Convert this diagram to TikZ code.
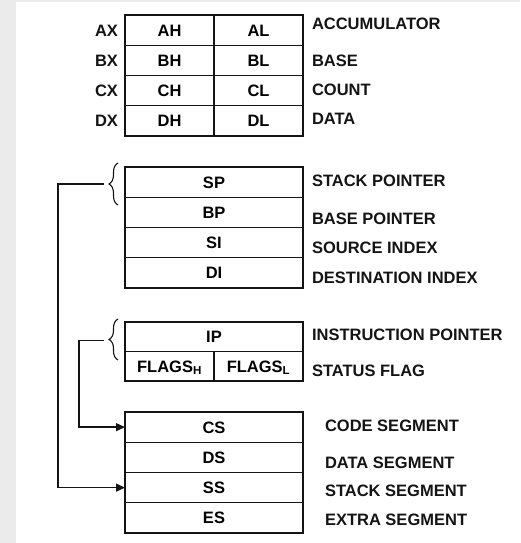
\documentclass[tikz,border=0pt]{standalone}
\usepackage{fontspec}
\setmainfont{Liberation Sans}
\usetikzlibrary{arrows.meta, positioning, decorations.pathreplacing}
\definecolor{myink}{RGB}{20,20,20}
\definecolor{mypanel}{RGB}{235,235,235}
\newcommand{\archfont}{\fontsize{16.5}{19}\selectfont\bfseries}
\tikzset{
  halfcell/.style={rectangle, draw=myink, minimum width=89pt,
    minimum height=30.25pt, inner sep=0pt, outer sep=0pt,
    text height=11.8pt, text depth=0pt, font=\archfont, line width=1.4pt},
  fullcell/.style={halfcell, minimum width=178pt},
  reglabel/.style={inner sep=0pt, outer sep=0pt, text height=11.8pt,
    text depth=0pt, font=\archfont, color=myink},
  bracepath/.style={decorate, decoration={brace, amplitude=9pt},
    line width=1.1pt, color=myink},
  arrow/.style={-{Triangle[length=9pt, width=8pt]}, line width=1.4pt, color=myink}
}

\begin{document}
\begin{tikzpicture}[x=1pt, y=-1pt]
  \useasboundingbox (0,0) rectangle (520,543);
  \fill[mypanel] (0,0) rectangle (16,543);
  \fill[mypanel] (0,0) rectangle (520,2);

  % General purpose registers
  \node[halfcell] (ah) at (169.5,30.125) {AH};
  \node[halfcell, right=0pt of ah] (al) {AL};
  \node[halfcell, below=0pt of ah] (bh) {BH};
  \node[halfcell, right=0pt of bh] (bl) {BL};
  \node[halfcell, below=0pt of bh] (ch) {CH};
  \node[halfcell, right=0pt of ch] (cl) {CL};
  \node[halfcell, below=0pt of ch] (dh) {DH};
  \node[halfcell, right=0pt of dh] (dl) {DL};

  \node[reglabel, left=7pt of ah] (ax) {AX};
  \node[reglabel, left=7pt of bh] (bx) {BX};
  \node[reglabel, left=7pt of ch] (cx) {CX};
  \node[reglabel, left=7pt of dh] (dx) {DX};

  \node[reglabel, anchor=west] (acclbl) at (312,23.5) {ACCUMULATOR};
  \node[reglabel, anchor=west] (baselbl) at (312,60.5) {BASE};
  \node[reglabel, anchor=west] (countlbl) at (312,90) {COUNT};
  \node[reglabel, anchor=west] (datalbl) at (312,118.5) {DATA};

  % Pointer and index registers
  \node[fullcell] (sp) at (214,182.125) {SP};
  \node[fullcell, below=0pt of sp] (bp) {BP};
  \node[fullcell, below=0pt of bp] (si) {SI};
  \node[fullcell, below=0pt of si] (di) {DI};

  \node[reglabel, anchor=west] (splbl) at (312,180.7) {STACK POINTER};
  \node[reglabel, anchor=west] (bplbl) at (312,219) {BASE POINTER};
  \node[reglabel, anchor=west] (silbl) at (312,248) {SOURCE INDEX};
  \node[reglabel, anchor=west] (dilbl) at (312,278) {DESTINATION INDEX};

  % Instruction pointer and flags
  \node[fullcell, minimum height=29.5pt] (ip) at (214,336.75) {IP};
  \node[halfcell, minimum height=29.5pt, anchor=north west] (flagsh)
    at (ip.south west) {FLAGS\textsubscript{H}};
  \node[halfcell, minimum height=29.5pt, right=0pt of flagsh] (flagsl)
    {FLAGS\textsubscript{L}};

  \node[reglabel, anchor=west] (iplbl) at (312,335) {INSTRUCTION POINTER};
  \node[reglabel, anchor=west] (flaglbl) at (312,370.5) {STATUS FLAG};

  % Segment registers
  \node[fullcell] (cs) at (214,427.125) {CS};
  \node[fullcell, below=0pt of cs] (ds) {DS};
  \node[fullcell, below=0pt of ds] (ss) {SS};
  \node[fullcell, below=0pt of ss] (es) {ES};

  \node[reglabel, anchor=west] (cslbl) at (325,426) {CODE SEGMENT};
  \node[reglabel, anchor=west] (dslbl) at (325,463) {DATA SEGMENT};
  \node[reglabel, anchor=west] (sslbl) at (325,490.7) {STACK SEGMENT};
  \node[reglabel, anchor=west] (eslbl) at (325,520) {EXTRA SEGMENT};

  % Braces
  \coordinate (spbot) at (118,205);
  \coordinate (sptop) at (118,163);
  \coordinate (iptop) at (118,319);
  \coordinate (ipbot) at (118,360);
  \draw[bracepath] (spbot) -- (sptop);
  \draw[bracepath] (ipbot) -- (iptop);

  % Links to segments
  \coordinate (sptip) at (104,184);
  \coordinate (spbend) at (58,184);
  \coordinate (iptip) at (104,340.5);
  \coordinate (ipbend) at (79,340.5);
  \draw[arrow] (sptip) -- (spbend) |- (ss.west);
  \draw[arrow] (iptip) -- (ipbend) |- (cs.west);
\end{tikzpicture}
\end{document}
